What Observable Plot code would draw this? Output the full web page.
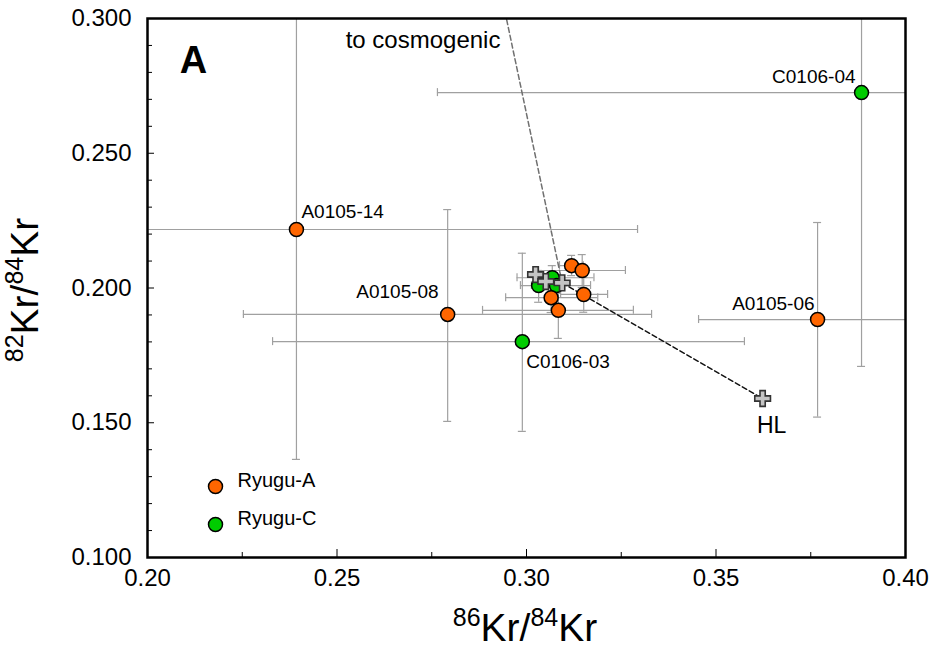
<!DOCTYPE html>
<html>
<head>
<meta charset="utf-8">
<script src="https://cdn.jsdelivr.net/npm/d3@7"></script>
<script src="https://cdn.jsdelivr.net/npm/@observablehq/plot@0.6"></script>
<style>
  body { margin: 0; background: #fff; }
  #chart svg { display: block; }
</style>
</head>
<body>
<div id="chart"></div>
<script>
// ---------- data ----------
const seriesNames = ["Ryugu-A", "Ryugu-C"];

// Ryugu-A (orange)
const aLabel = ["A0105-14", "A0105-08", "A0105-06", "", "", "", "", ""];
const aX   = [0.2393, 0.2792, 0.3768, 0.3119, 0.3147, 0.3151, 0.3065, 0.3084];
const aY   = [0.2217, 0.1902, 0.1883, 0.2083, 0.2065, 0.1976, 0.1964, 0.1917];
const aXLo = [0.1490, 0.2253, 0.3454, 0.3087, 0.3032, 0.3090, 0.2945, 0.2884];
const aXHi = [0.3293, 0.3330, 0.4082, 0.3150, 0.3261, 0.3214, 0.3188, 0.3282];
const aYLo = [0.1364, 0.1505, 0.1521, 0.2046, 0.2002, 0.1910, 0.1909, 0.1813];
const aYHi = [0.3070, 0.2291, 0.2243, 0.2121, 0.2124, 0.2039, 0.2017, 0.2020];

// Ryugu-C (green)
const cLabel = ["C0106-04", "C0106-03", "", "", ""];
const cX   = [0.3884, 0.2989, 0.3032, 0.3068, 0.3079];
const cY   = [0.2725, 0.1801, 0.2009, 0.2038, 0.2009];
const cXLo = [0.2765, 0.2330, 0.3013, 0.2975, 0.2984];
const cXHi = [0.5000, 0.3575, 0.3053, 0.3178, 0.3169];
const cYLo = [0.1709, 0.1468, 0.1947, 0.1991, 0.1980];
const cYHi = [0.3740, 0.2129, 0.2065, 0.2083, 0.2039];

// reference compositions (grey crosses)
const refLabel = ["", "", "", "HL"];
const refX = [0.3024, 0.3051, 0.3094, 0.3623];
const refY = [0.2050, 0.2024, 0.2019, 0.1590];

// mixing lines
const mixX = [0.3094, 0.3623];
const mixY = [0.2019, 0.1590];
const cosmoX = [0.3094, 0.2947];
const cosmoY = [0.2019, 0.3000];
const cosmoLabel = ["", "to cosmogenic"];

// axes
const xDomain = [0.20, 0.40];
const yDomain = [0.100, 0.300];
const xMajor = [0.20, 0.25, 0.30, 0.35, 0.40];
const xMinor = [0.225, 0.275, 0.325, 0.375];
const yMajor = [0.100, 0.150, 0.200, 0.250, 0.300];
const yMinor = [0.11, 0.12, 0.13, 0.14, 0.16, 0.17, 0.18, 0.19, 0.21, 0.22, 0.23, 0.24, 0.26, 0.27, 0.28, 0.29];

// ---------- build tables ----------
const A = aX.map((x, i) => ({x, y: aY[i], xlo: aXLo[i], xhi: aXHi[i], ylo: aYLo[i], yhi: aYHi[i], label: aLabel[i]}));
const C = cX.map((x, i) => ({x, y: cY[i], xlo: cXLo[i], xhi: cXHi[i], ylo: cYLo[i], yhi: cYHi[i], label: cLabel[i]}));
const R = refX.map((x, i) => ({x, y: refY[i], label: refLabel[i]}));
const MIX = mixX.map((x, i) => ({x, y: mixY[i]}));
const COSMO = cosmoX.map((x, i) => ({x, y: cosmoY[i], label: cosmoLabel[i]}));
const ALL = [...A, ...C];

// ---------- styles ----------
const ORANGE = "#ff6600";
const GREEN = "#00cc00";
const ERR = "#a0a0a0";
const labelStyle = {
  "A0105-14": {dx: 5, dy: -18, textAnchor: "start"},
  "A0105-08": {dx: -9, dy: -23, textAnchor: "end"},
  "A0105-06": {dx: -3, dy: -16, textAnchor: "end"},
  "C0106-04": {dx: -6, dy: -16, textAnchor: "end"},
  "C0106-03": {dx: 4, dy: 20, textAnchor: "start"},
  "HL": {dx: 9, dy: 27, textAnchor: "middle", fontSize: 23}
};
const errW = 1.2, cap = 4, dotR = 7;

function labelMarks(rows) {
  return rows.filter(d => d.label).map(d => {
    const s = labelStyle[d.label];
    return Plot.text([d], {x: "x", y: "y", text: "label", dx: s.dx, dy: s.dy,
      textAnchor: s.textAnchor, fontSize: s.fontSize || 19, fill: "black"});
  });
}

const plot = Plot.plot({
  width: 936,
  height: 650,
  marginLeft: 147,
  marginRight: 31,
  marginTop: 18,
  marginBottom: 93,
  style: {fontFamily: "'Liberation Sans', Arial, sans-serif", background: "white", color: "black"},
  x: {domain: xDomain},
  y: {domain: yDomain},
  marks: [
    // error bars
    Plot.ruleY(ALL, {y: "y", x1: "xlo", x2: "xhi", stroke: ERR, strokeWidth: errW, clip: true}),
    Plot.ruleX(ALL, {x: "x", y1: "ylo", y2: "yhi", stroke: ERR, strokeWidth: errW, clip: true}),
    Plot.ruleX(ALL, {x: "xlo", y1: "y", y2: "y", insetTop: -cap, insetBottom: -cap, stroke: ERR, strokeWidth: errW, clip: true}),
    Plot.ruleX(ALL, {x: "xhi", y1: "y", y2: "y", insetTop: -cap, insetBottom: -cap, stroke: ERR, strokeWidth: errW, clip: true}),
    Plot.ruleY(ALL, {y: "ylo", x1: "x", x2: "x", insetLeft: -cap, insetRight: -cap, stroke: ERR, strokeWidth: errW, clip: true}),
    Plot.ruleY(ALL, {y: "yhi", x1: "x", x2: "x", insetLeft: -cap, insetRight: -cap, stroke: ERR, strokeWidth: errW, clip: true}),
    // mixing lines
    Plot.line(COSMO, {x: "x", y: "y", stroke: "#707070", strokeWidth: 1.5, strokeDasharray: "5,3", clip: true}),
    Plot.line(MIX, {x: "x", y: "y", stroke: "#111", strokeWidth: 1.5, strokeDasharray: "5,3", clip: true}),
    // points
    Plot.dot(C, {x: "x", y: "y", r: dotR, fill: GREEN, stroke: "black", strokeWidth: 1.5}),
    Plot.dot(A, {x: "x", y: "y", r: dotR, fill: ORANGE, stroke: "black", strokeWidth: 1.5}),
    Plot.dot(R, {x: "x", y: "y", r: 6.6, symbol: "cross", fill: "#c4c4c4", stroke: "#333", strokeWidth: 1.6}),
    // labels
    ...labelMarks(A),
    ...labelMarks(C),
    ...labelMarks(R),
    Plot.text(COSMO.filter(d => d.label), {x: "x", y: "y", text: "label", dx: -6, dy: 22, textAnchor: "end", fontSize: 24}),
    // panel letter
    Plot.text(["A"], {frameAnchor: "top-left", dx: 46, dy: 42, text: d => d, fontSize: 38, fontWeight: "bold", textAnchor: "middle", lineAnchor: "middle"}),
    // legend
    Plot.dot([seriesNames[0]], {frameAnchor: "bottom-left", dx: 68, dy: -71, r: dotR, fill: ORANGE, stroke: "black", strokeWidth: 1.5}),
    Plot.dot([seriesNames[1]], {frameAnchor: "bottom-left", dx: 68, dy: -33, r: dotR, fill: GREEN, stroke: "black", strokeWidth: 1.5}),
    Plot.text([seriesNames[0]], {frameAnchor: "bottom-left", dx: 90, dy: -71, text: d => d, textAnchor: "start", fontSize: 20}),
    Plot.text([seriesNames[1]], {frameAnchor: "bottom-left", dx: 90, dy: -33, text: d => d, textAnchor: "start", fontSize: 20}),
    // ticks (inward)
    Plot.ruleX(xMajor, {x: d => d, y1: () => yDomain[0], y2: () => yDomain[0], insetBottom: 8, stroke: "black", strokeWidth: 1}),
    Plot.ruleX(xMinor, {x: d => d, y1: () => yDomain[0], y2: () => yDomain[0], insetBottom: 5, stroke: "black", strokeWidth: 1}),
    Plot.ruleY(yMajor, {y: d => d, x1: () => xDomain[0], x2: () => xDomain[0], insetRight: -7, stroke: "black", strokeWidth: 1}),
    Plot.ruleY(yMinor, {y: d => d, x1: () => xDomain[0], x2: () => xDomain[0], insetRight: -5, stroke: "black", strokeWidth: 1}),
    // axes (labels only)
    Plot.axisX({ticks: xMajor, tickFormat: d3.format(".2f"), tickSize: 0, tickPadding: 11, fontSize: 24, label: null}),
    Plot.axisY({ticks: yMajor, tickFormat: d3.format(".3f"), tickSize: 0, tickPadding: 16, fontSize: 24, label: null}),
    Plot.frame({stroke: "black", strokeWidth: 2.5})
  ]
});

document.getElementById("chart").appendChild(plot);

// axis titles with superscripts
const svg = d3.select(plot);
function isoTitle(sel, a, b) {
  const sup = 25, big = 39, up = 15;
  sel.append("tspan").attr("font-size", sup).attr("dy", -up).text(a);
  sel.append("tspan").attr("font-size", big).attr("dy", up).text("Kr/");
  sel.append("tspan").attr("font-size", sup).attr("dy", -up).text(b);
  sel.append("tspan").attr("font-size", big).attr("dy", up).text("Kr");
}
const xt = svg.append("text")
  .attr("x", 525).attr("y", 641)
  .attr("text-anchor", "middle")
  .attr("font-family", "'Liberation Sans', Arial, sans-serif")
  .attr("fill", "black");
isoTitle(xt, "86", "84");
const yt = svg.append("text")
  .attr("transform", "translate(38,290) rotate(-90)")
  .attr("text-anchor", "middle")
  .attr("font-family", "'Liberation Sans', Arial, sans-serif")
  .attr("fill", "black");
isoTitle(yt, "82", "84");
</script>
</body>
</html>
